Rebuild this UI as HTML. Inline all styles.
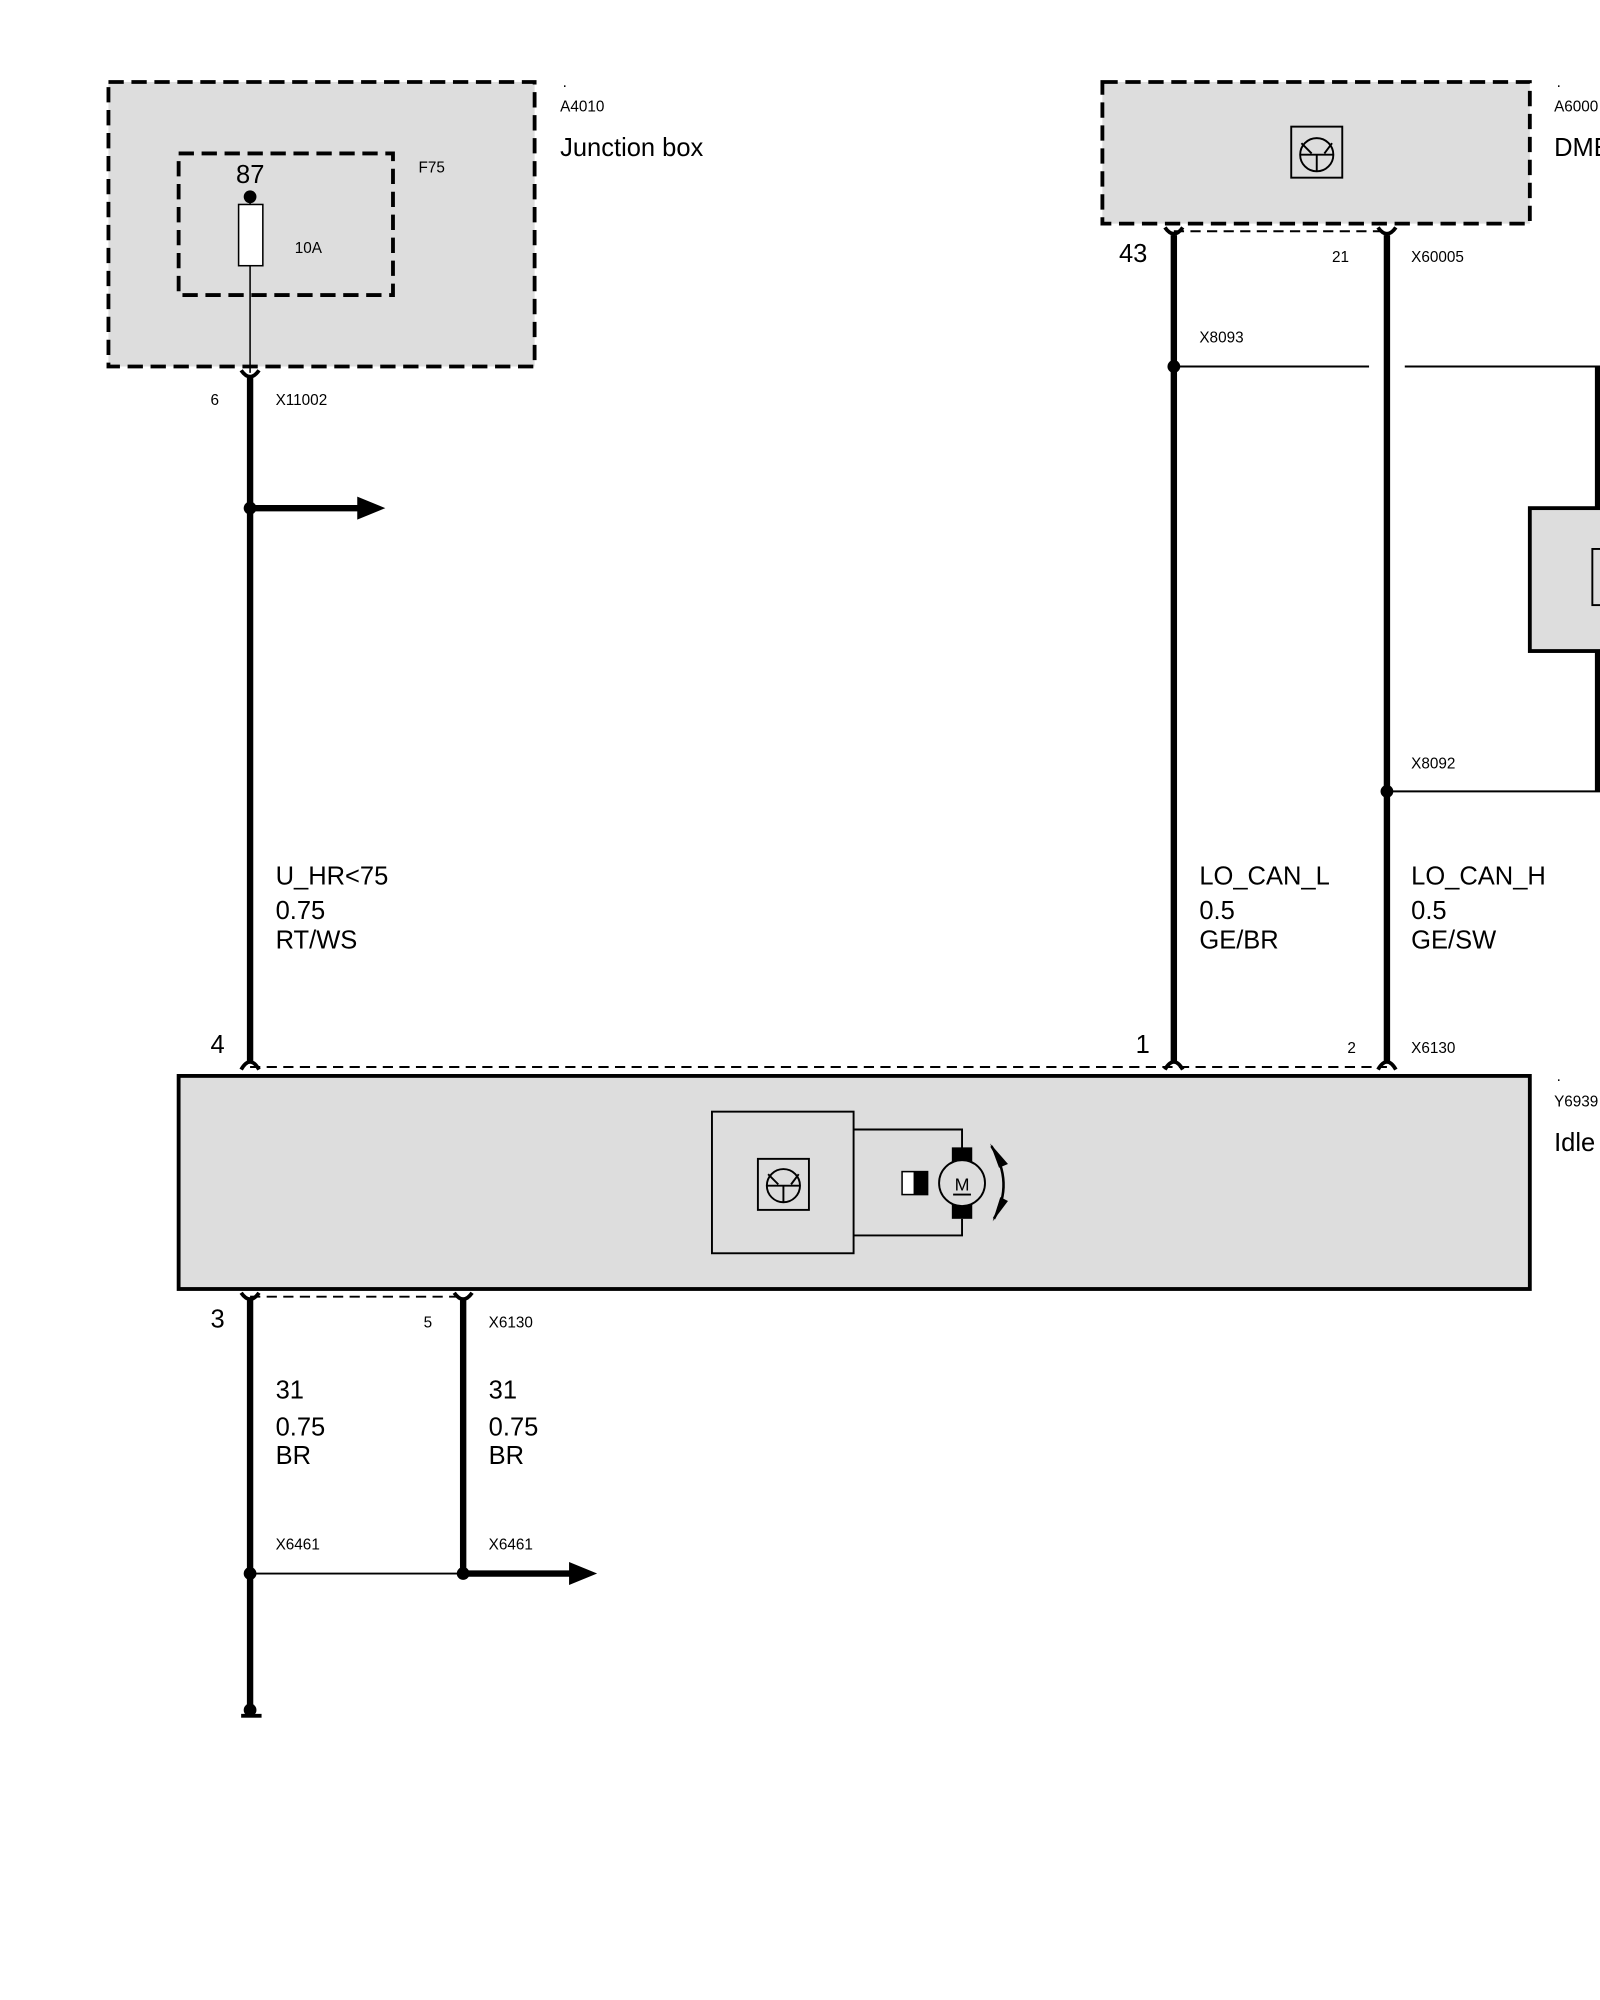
<!DOCTYPE html>
<html><head><meta charset="utf-8"><style>
html,body{margin:0;padding:0;background:#fff;width:1600px;height:2000px;overflow:hidden}
svg{display:block}
text{font-family:"Liberation Sans",Arial,sans-serif;fill:#000}
.s{font-size:12px}.b{font-size:20px}
</style></head><body>
<svg width="1600" height="2000" viewBox="0 0 1254 1567" xmlns="http://www.w3.org/2000/svg">
<!-- Junction box -->
<rect x="85" y="64" width="334" height="223" fill="#ddd" stroke="#000" stroke-width="3" stroke-dasharray="12,6"/>
<rect x="140" y="120" width="168" height="111" fill="none" stroke="#000" stroke-width="3" stroke-dasharray="12,6"/>
<line x1="196" y1="154" x2="196" y2="292" stroke="#000" stroke-width="1.2"/>
<rect x="187" y="160" width="19" height="48" fill="#fff" stroke="#000" stroke-width="1.2"/>
<circle cx="196" cy="154" r="5"/>
<text x="441" y="68" class="s">.</text>
<text x="439" y="87" class="s">A4010</text>
<text x="439" y="122" class="b">Junction box</text>
<text x="328" y="135" class="s">F75</text>
<text x="185" y="143" class="b">87</text>
<text x="231" y="198" class="s">10A</text>
<!-- left wire -->
<path d="M189,290 Q196,300 203,290" fill="none" stroke="#000" stroke-width="3"/>
<line x1="196" y1="296" x2="196" y2="832" stroke="#000" stroke-width="5"/>
<text x="165" y="317" class="s">6</text>
<text x="216" y="317" class="s">X11002</text>
<circle cx="196" cy="398" r="5"/>
<line x1="196" y1="398" x2="284" y2="398" stroke="#000" stroke-width="5"/>
<polygon points="280,389 302,398 280,407" fill="#000"/>
<text x="216" y="693" class="b">U_HR&lt;75</text>
<text x="216" y="720" class="b">0.75</text>
<text x="216" y="743" class="b">RT/WS</text>
<text x="165" y="825" class="b">4</text>
<!-- DME -->
<rect x="864" y="64" width="335" height="111" fill="#ddd" stroke="#000" stroke-width="3" stroke-dasharray="12,6"/>
<rect x="1012" y="99" width="40" height="40" fill="#ddd" stroke="#000" stroke-width="1.5"/>
<circle cx="1032" cy="121" r="13" fill="none" stroke="#000" stroke-width="1.5"/>
<path d="M1019,121 H1045 M1032,121 V134 M1020,112 L1028,120 M1044,112 L1038,120" stroke="#000" stroke-width="1.5" fill="none"/>
<text x="1220" y="68" class="s">.</text>
<text x="1218" y="87" class="s">A6000</text>
<text x="1218" y="122" class="b">DME</text>
<line x1="920" y1="181" x2="1087" y2="181" stroke="#000" stroke-width="1.5" stroke-dasharray="8,5"/>
<path d="M913,178 Q920,188 927,178" fill="none" stroke="#000" stroke-width="3"/>
<path d="M1080,178 Q1087,188 1094,178" fill="none" stroke="#000" stroke-width="3"/>
<line x1="920" y1="184" x2="920" y2="832" stroke="#000" stroke-width="5"/>
<line x1="1087" y1="184" x2="1087" y2="832" stroke="#000" stroke-width="5"/>
<text x="877" y="205" class="b">43</text>
<text x="1044" y="205" class="s">21</text>
<text x="1106" y="205" class="s">X60005</text>
<text x="940" y="268" class="s">X8093</text>
<circle cx="920" cy="287" r="5"/>
<line x1="920" y1="287" x2="1073" y2="287" stroke="#000" stroke-width="1.5"/>
<line x1="1101" y1="287" x2="1254" y2="287" stroke="#000" stroke-width="1.5"/>
<line x1="1252" y1="287" x2="1252" y2="620" stroke="#000" stroke-width="4"/>
<rect x="1199" y="398" width="60" height="112" fill="#ddd" stroke="#000" stroke-width="3"/>
<rect x="1248" y="430" width="10" height="44" fill="#ddd" stroke="#000" stroke-width="1.5"/>
<text x="1106" y="602" class="s">X8092</text>
<circle cx="1087" cy="620" r="5"/>
<line x1="1087" y1="620" x2="1254" y2="620" stroke="#000" stroke-width="1.5"/>
<text x="940" y="693" class="b">LO_CAN_L</text>
<text x="940" y="720" class="b">0.5</text>
<text x="940" y="743" class="b">GE/BR</text>
<text x="1106" y="693" class="b">LO_CAN_H</text>
<text x="1106" y="720" class="b">0.5</text>
<text x="1106" y="743" class="b">GE/SW</text>
<text x="890" y="825" class="b">1</text>
<text x="1056" y="825" class="s">2</text>
<text x="1106" y="825" class="s">X6130</text>
<!-- main box connectors -->
<line x1="196" y1="836" x2="1087" y2="836" stroke="#000" stroke-width="1.5" stroke-dasharray="8,5"/>
<path d="M189,838 Q196,826 203,838" fill="none" stroke="#000" stroke-width="3"/>
<path d="M913,838 Q920,826 927,838" fill="none" stroke="#000" stroke-width="3"/>
<path d="M1080,838 Q1087,826 1094,838" fill="none" stroke="#000" stroke-width="3"/>
<rect x="140" y="843" width="1059" height="167" fill="#ddd" stroke="#000" stroke-width="3"/>
<text x="1220" y="847" class="s">.</text>
<text x="1218" y="867" class="s">Y6939</text>
<text x="1218" y="902" class="b">Idle</text>
<rect x="558" y="871" width="111" height="111" fill="none" stroke="#000" stroke-width="1.5"/>
<rect x="594" y="908" width="40" height="40" fill="none" stroke="#000" stroke-width="1.5"/>
<circle cx="614" cy="929" r="13" fill="none" stroke="#000" stroke-width="1.5"/>
<path d="M601,929 H627 M614,929 V942 M602,920 L610,928 M626,920 L620,928" stroke="#000" stroke-width="1.5" fill="none"/>
<path d="M669,885 H754 V900 M669,968 H754 V955" fill="none" stroke="#000" stroke-width="1.5"/>
<rect x="746" y="899" width="16" height="12" fill="#000"/>
<rect x="746" y="943" width="16" height="12" fill="#000"/>
<circle cx="754" cy="927" r="18" fill="#ddd" stroke="#000" stroke-width="1.5"/>
<text x="754" y="933" font-size="14" text-anchor="middle">M</text>
<line x1="747" y1="936" x2="761" y2="936" stroke="#000" stroke-width="1.5"/>
<rect x="707" y="918" width="20" height="18" fill="#fff" stroke="#000" stroke-width="1.2"/>
<rect x="716" y="918" width="11" height="18" fill="#000"/>
<path d="M777,898 Q795,927 779,955" fill="none" stroke="#000" stroke-width="2"/>
<polygon points="776,896 790,912 783,915" fill="#000"/>
<polygon points="778,957 790,941 784,938" fill="#000"/>
<!-- bottom -->
<line x1="196" y1="1016" x2="363" y2="1016" stroke="#000" stroke-width="1.5" stroke-dasharray="8,5"/>
<path d="M189,1013 Q196,1023 203,1013" fill="none" stroke="#000" stroke-width="3"/>
<path d="M356,1013 Q363,1023 370,1013" fill="none" stroke="#000" stroke-width="3"/>
<line x1="196" y1="1019" x2="196" y2="1342" stroke="#000" stroke-width="5"/>
<line x1="363" y1="1019" x2="363" y2="1233" stroke="#000" stroke-width="5"/>
<circle cx="196" cy="1340" r="5"/>
<rect x="189" y="1343" width="16" height="3" fill="#000"/>
<text x="165" y="1040" class="b">3</text>
<text x="332" y="1040" class="s">5</text>
<text x="383" y="1040" class="s">X6130</text>
<text x="216" y="1096" class="b">31</text>
<text x="216" y="1125" class="b">0.75</text>
<text x="216" y="1147" class="b">BR</text>
<text x="383" y="1096" class="b">31</text>
<text x="383" y="1125" class="b">0.75</text>
<text x="383" y="1147" class="b">BR</text>
<text x="216" y="1214" class="s">X6461</text>
<text x="383" y="1214" class="s">X6461</text>
<circle cx="196" cy="1233" r="5"/>
<circle cx="363" cy="1233" r="5"/>
<line x1="196" y1="1233" x2="363" y2="1233" stroke="#000" stroke-width="1.5"/>
<line x1="363" y1="1233" x2="450" y2="1233" stroke="#000" stroke-width="5"/>
<polygon points="446,1224 468,1233 446,1242" fill="#000"/>
</svg>
</body></html>
